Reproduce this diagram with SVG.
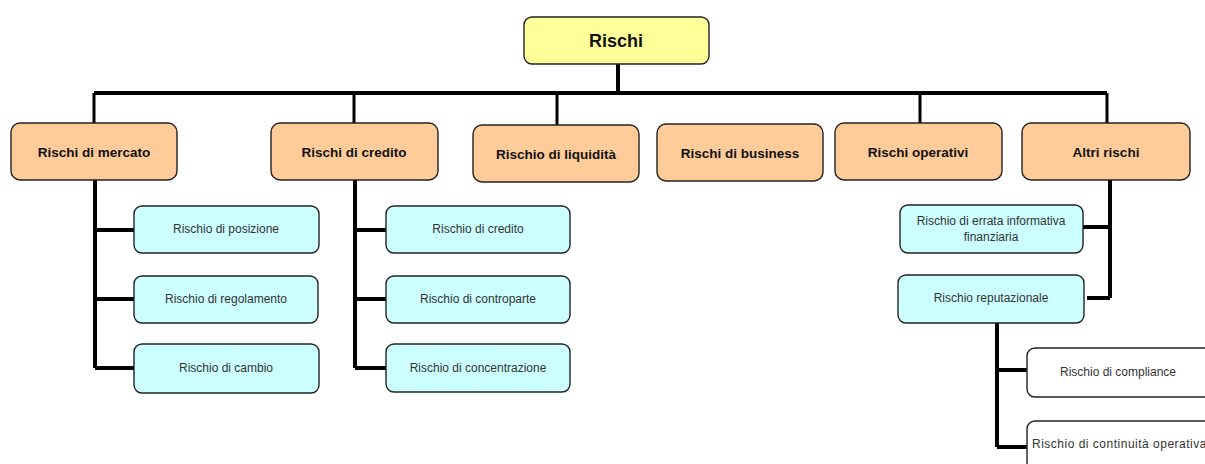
<svg xmlns="http://www.w3.org/2000/svg" width="1205" height="464" viewBox="0 0 1205 464">
<style>
.box{stroke:#222;stroke-width:1.4}
.root{fill:#FFFF99}
.l1{fill:#FFCC99}
.l2{fill:#CCFFFF}
.l3{fill:#FFFFFF}
.t1{font-family:"Liberation Sans",Arial,sans-serif;font-weight:bold;font-size:13.5px;fill:#111;text-anchor:middle}
.t0{font-family:"Liberation Sans",Arial,sans-serif;font-weight:bold;font-size:18px;fill:#111;text-anchor:middle}
.t2{font-family:"Liberation Sans",Arial,sans-serif;font-size:12px;fill:#333;text-anchor:middle}
.c{fill:none;stroke:#000;stroke-width:4}
.c3{fill:none;stroke:#000;stroke-width:3}
</style>
<rect width="1205" height="464" fill="#fff"/>
<g id="connectors">
<path class="c" d="M618 64V93M94 93H618M618 93H1107"/>
<path class="c3" d="M94 93V123M354 93V123M557 93V125M920 93V123M1107 93V123"/>
<path class="c" d="M95 180V368M95 230H134M95 299H134M95 368H134"/>
<path class="c" d="M355 180V368M355 230H386M355 299H386M355 368H386"/>
<path class="c" d="M1110 180V298M1083 227H1110M1087 298H1110"/>
<path class="c" d="M997 323V447M997 370H1027M997 447H1027"/>
</g>
<g id="n-rischi"><rect class="box root" x="524" y="17" width="185" height="47" rx="8"/><text class="t0" x="616" y="47">Rischi</text></g>
<g id="n-mercato"><rect class="box l1" x="11" y="123" width="166" height="57" rx="9"/><text class="t1" x="94" y="157">Rischi di mercato</text></g>
<g id="n-credito"><rect class="box l1" x="271" y="123" width="167" height="57" rx="9"/><text class="t1" x="354" y="157">Rischi di credito</text></g>
<g id="n-liquidita"><rect class="box l1" x="473" y="125" width="166" height="57" rx="9"/><text class="t1" x="556" y="159">Rischio di liquidità</text></g>
<g id="n-business"><rect class="box l1" x="657" y="124" width="166" height="57" rx="9"/><text class="t1" x="740" y="158">Rischi di business</text></g>
<g id="n-operativi"><rect class="box l1" x="835" y="123" width="167" height="57" rx="9"/><text class="t1" x="918" y="157">Rischi operativi</text></g>
<g id="n-altri"><rect class="box l1" x="1022" y="123" width="168" height="57" rx="9"/><text class="t1" x="1106" y="157">Altri rischi</text></g>
<g id="n-posizione"><rect class="box l2" x="134" y="206" width="185" height="47" rx="8"/><text class="t2" x="226" y="233">Rischio di posizione</text></g>
<g id="n-regolamento"><rect class="box l2" x="134" y="276" width="184" height="47" rx="8"/><text class="t2" x="226" y="303">Rischio di regolamento</text></g>
<g id="n-cambio"><rect class="box l2" x="134" y="344" width="185" height="49" rx="8"/><text class="t2" x="226" y="372">Rischio di cambio</text></g>
<g id="n-credito2"><rect class="box l2" x="386" y="206" width="184" height="47" rx="8"/><text class="t2" x="478" y="233">Rischio di credito</text></g>
<g id="n-controparte"><rect class="box l2" x="386" y="276" width="184" height="47" rx="8"/><text class="t2" x="478" y="303">Rischio di controparte</text></g>
<g id="n-concentrazione"><rect class="box l2" x="386" y="344" width="184" height="48" rx="8"/><text class="t2" x="478" y="372">Rischio di concentrazione</text></g>
<g id="n-errata"><rect class="box l2" x="900" y="205" width="183" height="48" rx="8"/><text class="t2" x="991" y="225">Rischio di errata informativa</text><text class="t2" x="991" y="241">finanziaria</text></g>
<g id="n-reputazionale"><rect class="box l2" x="898" y="275" width="186" height="48" rx="8"/><text class="t2" x="991" y="302">Rischio reputazionale</text></g>
<g id="n-compliance"><rect class="box l3" x="1027" y="348" width="190" height="49" rx="8"/><text class="t2" x="1118" y="376">Rischio di compliance</text></g>
<g id="n-continuita"><rect class="box l3" x="1027" y="421" width="190" height="60" rx="8"/><text class="t2" x="1032" y="448" style="text-anchor:start;letter-spacing:0.5px">Rischio di continuità operativa</text></g>
</svg>
